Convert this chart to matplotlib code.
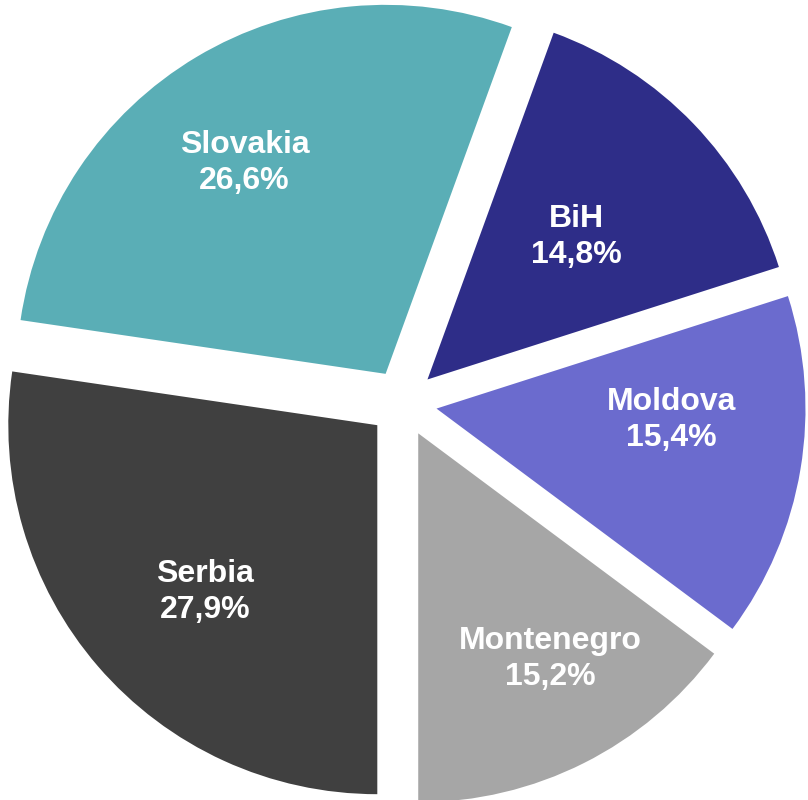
import numpy as np
import matplotlib
matplotlib.use("Agg")
import matplotlib.pyplot as plt

# slices clockwise from the bottom
countries  = ["Serbia", "Slovakia", "BiH", "Moldova", "Montenegro"]
label_pct  = [27.9, 26.6, 14.8, 15.4, 15.2]     # printed on the chart
slice_size = [27.3, 28.2, 14.5, 15.1, 14.8]     # wedge sizes as drawn
colors     = ["#404040", "#5AAEB6", "#2E2D88", "#6B6BCE", "#A6A6A6"]

# label placement: distance from centre, angle nudge in degrees
label_r     = [0.742, 0.780, 0.650, 0.728, 0.801]
label_nudge = [2.9, 2.6, -0.1, 5.8, 3.3]

plt.rcParams["font.family"] = ["Liberation Sans", "DejaVu Sans"]

fig = plt.figure(figsize=(8.08, 8.0), dpi=100)
ax = fig.add_axes([0, 0, 1, 1])

expl = 0.092
wedges, _ = ax.pie(slice_size, colors=colors, startangle=270, counterclock=False,
                   explode=[expl] * len(slice_size), radius=1.0,
                   wedgeprops=dict(linewidth=0))

for w, name, val, lr, nd in zip(wedges, countries, label_pct, label_r, label_nudge):
    ang = np.deg2rad((w.theta1 + w.theta2) / 2 + nd)
    ax.text(lr * np.cos(ang), lr * np.sin(ang),
            f"{name}\n{val:.1f}%".replace(".", ","),
            ha="center", va="center", color="white",
            fontsize=23, fontweight="bold", linespacing=1.25)

# centre of the pie sits at about (403, 403) px, radius ~369 px
px = 369
ax.set_xlim(-403 / px, 405 / px)
ax.set_ylim(-397 / px, 403 / px)
ax.set_aspect("equal")
ax.axis("off")

fig.savefig("out.png", dpi=100)
